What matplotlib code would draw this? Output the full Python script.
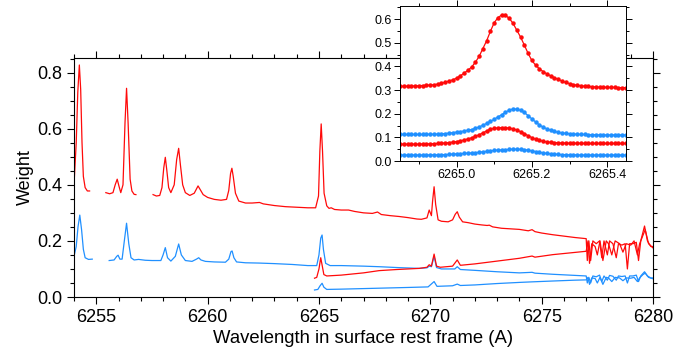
import numpy as np
import matplotlib
matplotlib.use('Agg')
import matplotlib.pyplot as plt
from matplotlib.ticker import MultipleLocator

plt.rcParams['font.family'] = ['Liberation Sans', 'DejaVu Sans']

NAN = float('nan')

# ---------------- main panel data: (wavelength, weight); NaN = gap ----------------
red_upper = [
    (6254.00, 0.40), (6254.10, 0.55), (6254.17, 0.73), (6254.24, 0.827), (6254.30, 0.74),
    (6254.36, 0.55), (6254.42, 0.43), (6254.50, 0.39), (6254.60, 0.378), (6254.70, 0.378),
    (NAN, NAN),
    (6255.43, 0.372), (6255.60, 0.368), (6255.75, 0.372), (6255.85, 0.40), (6255.94, 0.42),
    (6256.02, 0.395), (6256.10, 0.372), (6256.20, 0.40), (6256.29, 0.62), (6256.36, 0.744),
    (6256.43, 0.62), (6256.52, 0.42), (6256.60, 0.378), (6256.70, 0.366), (6256.78, 0.365),
    (NAN, NAN),
    (6257.55, 0.365), (6257.70, 0.360), (6257.85, 0.362), (6257.95, 0.39), (6258.03, 0.46),
    (6258.10, 0.498), (6258.17, 0.45), (6258.25, 0.39), (6258.35, 0.372), (6258.50, 0.40),
    (6258.61, 0.49), (6258.70, 0.53), (6258.78, 0.47), (6258.88, 0.40), (6259.00, 0.372),
    (6259.20, 0.362), (6259.40, 0.37), (6259.50, 0.385), (6259.57, 0.396), (6259.65, 0.385),
    (6259.80, 0.365), (6260.00, 0.355), (6260.30, 0.348), (6260.60, 0.345), (6260.85, 0.348),
    (6260.95, 0.38), (6261.03, 0.44), (6261.09, 0.459), (6261.15, 0.43), (6261.25, 0.37),
    (6261.40, 0.342), (6261.70, 0.335), (6262.00, 0.335), (6262.33, 0.337), (6262.50, 0.332),
    (6263.00, 0.326), (6263.50, 0.322), (6264.00, 0.320), (6264.50, 0.318), (6264.85, 0.318),
    (6264.98, 0.36), (6265.04, 0.52), (6265.10, 0.617), (6265.16, 0.52), (6265.23, 0.37),
    (6265.35, 0.325), (6265.45, 0.316), (6265.55, 0.318), (6265.70, 0.312), (6266.00, 0.310),
    (6266.33, 0.310), (6266.60, 0.305), (6267.00, 0.300), (6267.40, 0.298), (6267.63, 0.303),
    (6267.80, 0.294), (6268.20, 0.290), (6268.60, 0.287), (6269.00, 0.283), (6269.40, 0.278),
    (6269.60, 0.277), (6269.85, 0.282), (6269.95, 0.31), (6270.05, 0.29), (6270.10, 0.34),
    (6270.17, 0.393), (6270.24, 0.33), (6270.35, 0.275), (6270.50, 0.270), (6270.80, 0.268),
    (6271.00, 0.275), (6271.12, 0.295), (6271.21, 0.304), (6271.30, 0.285), (6271.45, 0.268),
    (6271.70, 0.265), (6272.00, 0.260), (6272.30, 0.257), (6272.55, 0.255), (6272.65, 0.256),
    (6272.80, 0.250), (6273.20, 0.245), (6273.60, 0.243), (6274.00, 0.241), (6274.40, 0.236),
    (6274.57, 0.240), (6274.70, 0.233), (6275.00, 0.228), (6275.50, 0.222), (6276.00, 0.217),
    (6276.50, 0.212), (6276.90, 0.209), (6277.00, 0.208), (6277.05, 0.13), (6277.12, 0.20),
    (6277.20, 0.13), (6277.30, 0.20), (6277.45, 0.19), (6277.60, 0.20), (6277.70, 0.14),
    (6277.80, 0.20), (6277.95, 0.15), (6278.05, 0.20), (6278.20, 0.19), (6278.35, 0.14),
    (6278.45, 0.19), (6278.60, 0.185), (6278.75, 0.19), (6278.85, 0.10), (6278.95, 0.19),
    (6279.10, 0.19), (6279.25, 0.195), (6279.35, 0.13), (6279.45, 0.20), (6279.62, 0.253),
    (6279.75, 0.20), (6279.90, 0.18), (6280.00, 0.18),
]

red_lower = [
    (6264.80, 0.067), (6264.90, 0.070), (6265.00, 0.10), (6265.08, 0.14), (6265.15, 0.11),
    (6265.22, 0.08), (6265.35, 0.075), (6266.00, 0.078), (6267.00, 0.086), (6267.70, 0.094),
    (6268.50, 0.098), (6269.50, 0.102), (6269.85, 0.106), (6269.95, 0.115), (6270.05, 0.11),
    (6270.17, 0.153), (6270.28, 0.11), (6270.45, 0.106), (6271.00, 0.110), (6271.21, 0.132),
    (6271.35, 0.113), (6272.00, 0.118), (6273.00, 0.128), (6274.00, 0.138), (6274.57, 0.146),
    (6274.70, 0.142), (6275.50, 0.151), (6276.50, 0.159), (6277.00, 0.163), (6277.08, 0.20),
    (6277.15, 0.12), (6277.25, 0.19), (6277.40, 0.18), (6277.50, 0.15), (6277.62, 0.20),
    (6277.75, 0.13), (6277.90, 0.20), (6278.00, 0.19), (6278.15, 0.15), (6278.30, 0.20),
    (6278.50, 0.19), (6278.65, 0.16), (6278.80, 0.19), (6279.00, 0.185), (6279.15, 0.20),
    (6279.30, 0.15), (6279.40, 0.19), (6279.55, 0.22), (6279.65, 0.24), (6279.80, 0.19),
    (6280.00, 0.175),
]

blue_upper = [
    (6254.00, 0.145), (6254.10, 0.18), (6254.18, 0.25), (6254.26, 0.292), (6254.34, 0.24),
    (6254.42, 0.17), (6254.50, 0.14), (6254.65, 0.134), (6254.82, 0.135),
    (NAN, NAN),
    (6255.58, 0.130), (6255.80, 0.132), (6255.92, 0.145), (6255.98, 0.149), (6256.06, 0.135),
    (6256.16, 0.135), (6256.26, 0.20), (6256.36, 0.263), (6256.46, 0.19), (6256.56, 0.14),
    (6256.70, 0.132), (6256.90, 0.134), (6257.20, 0.131), (6257.50, 0.130), (6257.90, 0.130),
    (6258.00, 0.15), (6258.10, 0.176), (6258.20, 0.14), (6258.35, 0.128), (6258.55, 0.145),
    (6258.70, 0.189), (6258.82, 0.15), (6259.00, 0.13), (6259.30, 0.127), (6259.50, 0.135),
    (6259.60, 0.14), (6259.70, 0.132), (6259.90, 0.127), (6260.30, 0.125), (6260.80, 0.124),
    (6260.95, 0.135), (6261.05, 0.162), (6261.10, 0.164), (6261.18, 0.14), (6261.30, 0.125),
    (6261.70, 0.122), (6262.30, 0.121), (6263.00, 0.119), (6263.80, 0.116), (6264.50, 0.112),
    (6264.90, 0.112), (6265.00, 0.15), (6265.08, 0.21), (6265.14, 0.221), (6265.20, 0.17),
    (6265.30, 0.12), (6265.50, 0.112), (6266.00, 0.112), (6267.00, 0.110), (6267.70, 0.108),
    (6268.50, 0.105), (6269.50, 0.102), (6269.85, 0.104), (6269.95, 0.11), (6270.05, 0.108),
    (6270.17, 0.145), (6270.28, 0.105), (6270.50, 0.100), (6271.10, 0.100), (6271.21, 0.108),
    (6271.35, 0.098), (6272.00, 0.095), (6273.00, 0.090), (6274.00, 0.086), (6274.57, 0.088),
    (6274.70, 0.085), (6275.50, 0.081), (6276.50, 0.077), (6277.00, 0.075), (6277.05, 0.05),
    (6277.12, 0.07), (6277.20, 0.05), (6277.30, 0.075), (6277.45, 0.072), (6277.60, 0.078),
    (6277.70, 0.055), (6277.80, 0.075), (6277.95, 0.06), (6278.05, 0.077), (6278.20, 0.074),
    (6278.35, 0.06), (6278.45, 0.075), (6278.60, 0.073), (6278.75, 0.075), (6278.85, 0.05),
    (6278.95, 0.075), (6279.10, 0.075), (6279.25, 0.078), (6279.35, 0.055), (6279.45, 0.075),
    (6279.62, 0.09), (6279.75, 0.075), (6279.90, 0.068), (6280.00, 0.068),
]

blue_lower = [
    (6264.80, 0.025), (6264.95, 0.027), (6265.05, 0.04), (6265.14, 0.049), (6265.22, 0.035),
    (6265.35, 0.027), (6266.00, 0.028), (6267.00, 0.030), (6268.00, 0.032), (6269.00, 0.034),
    (6269.90, 0.036), (6270.17, 0.055), (6270.30, 0.038), (6271.00, 0.040), (6271.21, 0.046),
    (6271.35, 0.041), (6272.00, 0.043), (6273.00, 0.048), (6274.00, 0.052), (6274.57, 0.054),
    (6275.50, 0.057), (6276.50, 0.060), (6277.00, 0.061), (6277.08, 0.07), (6277.15, 0.045),
    (6277.25, 0.068), (6277.40, 0.066), (6277.50, 0.05), (6277.62, 0.07), (6277.75, 0.045),
    (6277.90, 0.07), (6278.00, 0.068), (6278.15, 0.055), (6278.30, 0.07), (6278.50, 0.068),
    (6278.65, 0.058), (6278.80, 0.068), (6279.00, 0.067), (6279.15, 0.07), (6279.30, 0.055),
    (6279.40, 0.068), (6279.55, 0.08), (6279.65, 0.085), (6279.80, 0.07), (6280.00, 0.065),
]

# ---------------- inset data (0.01 A sampling) ----------------
inset_wl = np.round(6264.85 + 0.01 * np.arange(61), 2)

inset_red_top = [
    0.316, 0.316, 0.316, 0.317, 0.317, 0.318, 0.319, 0.320, 0.321, 0.322,
    0.325, 0.328, 0.333, 0.338, 0.343, 0.350, 0.360, 0.371, 0.383, 0.397,
    0.417, 0.442, 0.475, 0.508, 0.548, 0.584, 0.606, 0.617, 0.615, 0.603,
    0.582, 0.553, 0.524, 0.490, 0.455, 0.425, 0.405, 0.390, 0.378, 0.368,
    0.360, 0.352, 0.345, 0.338, 0.332, 0.327, 0.323, 0.320, 0.318, 0.316,
    0.315, 0.314, 0.313, 0.312, 0.312, 0.311, 0.311, 0.311, 0.310, 0.310,
    0.310,
]
inset_blue_top = [
    0.112, 0.112, 0.112, 0.112, 0.112, 0.112, 0.112, 0.113, 0.113, 0.113,
    0.114, 0.115, 0.116, 0.118, 0.120, 0.122, 0.124, 0.127, 0.130, 0.133,
    0.138, 0.144, 0.151, 0.159, 0.167, 0.176, 0.186, 0.196, 0.206, 0.215,
    0.220, 0.219, 0.214, 0.205, 0.192, 0.178, 0.165, 0.153, 0.143, 0.136,
    0.130, 0.125, 0.121, 0.118, 0.117, 0.115, 0.114, 0.113, 0.112, 0.112,
    0.111, 0.111, 0.111, 0.110, 0.110, 0.110, 0.110, 0.110, 0.110, 0.110,
    0.110,
]
inset_red_low = [
    0.071, 0.071, 0.071, 0.071, 0.071, 0.071, 0.072, 0.072, 0.073, 0.073,
    0.074, 0.075, 0.076, 0.078, 0.080, 0.082, 0.085, 0.089, 0.093, 0.098,
    0.104, 0.111, 0.119, 0.127, 0.134, 0.138, 0.140, 0.141, 0.141, 0.139,
    0.136, 0.131, 0.124, 0.116, 0.107, 0.099, 0.092, 0.087, 0.083, 0.081,
    0.079, 0.078, 0.077, 0.076, 0.076, 0.075, 0.075, 0.075, 0.075, 0.074,
    0.074, 0.074, 0.074, 0.074, 0.074, 0.074, 0.074, 0.074, 0.074, 0.074,
    0.074,
]
inset_blue_low = [
    0.025, 0.025, 0.025, 0.025, 0.025, 0.025, 0.025, 0.025, 0.026, 0.026,
    0.026, 0.027, 0.027, 0.028, 0.029, 0.030, 0.031, 0.032, 0.033, 0.034,
    0.035, 0.037, 0.039, 0.041, 0.043, 0.045, 0.046, 0.047, 0.048, 0.049,
    0.050, 0.050, 0.049, 0.048, 0.046, 0.043, 0.040, 0.037, 0.034, 0.032,
    0.030, 0.029, 0.028, 0.027, 0.027, 0.026, 0.026, 0.026, 0.025, 0.025,
    0.025, 0.025, 0.025, 0.025, 0.025, 0.025, 0.025, 0.025, 0.025, 0.025,
    0.025,
]

RED = '#ff0a0a'
BLUE = '#2090ff'

fig = plt.figure(figsize=(7.0, 3.54), dpi=100)
ax = fig.add_axes([74 / 700, 1 - 297 / 354, (653 - 74) / 700, (297 - 58) / 354])

for series, col in [(blue_lower, BLUE), (blue_upper, BLUE), (red_lower, RED), (red_upper, RED)]:
    xs, ys = zip(*series)
    ax.plot(xs, ys, color=col, lw=0.9)

ax.set_xlim(6254.0, 6280.0)
ax.set_ylim(0, 0.852)
ax.xaxis.set_major_locator(MultipleLocator(5))
ax.xaxis.set_minor_locator(MultipleLocator(1))
ax.yaxis.set_major_locator(MultipleLocator(0.2))
ax.yaxis.set_minor_locator(MultipleLocator(0.05))
ax.tick_params(which='both', direction='out', top=True, right=True, width=0.8, labelsize=13)
ax.tick_params(which='major', length=5)
ax.tick_params(which='minor', length=3)
ax.set_xlabel('Wavelength in surface rest frame (A)', fontsize=13.3, labelpad=3)
ax.set_ylabel('Weight', fontsize=13, labelpad=2)
for s in ax.spines.values():
    s.set_linewidth(0.8)

# inset
axi = fig.add_axes([400 / 700, 1 - 161 / 354, (626 - 400) / 700, (161 - 6) / 354])
axi.set_facecolor('white')
for vals, col in [(inset_red_top, RED), (inset_blue_top, BLUE), (inset_red_low, RED), (inset_blue_low, BLUE)]:
    axi.plot(inset_wl, vals, color=col, lw=0.9, marker='o', ms=2.2, mec=col, mfc=col)
axi.set_xlim(6264.85, 6265.45)
axi.set_ylim(0, 0.655)
axi.xaxis.set_major_locator(MultipleLocator(0.2))
axi.xaxis.set_minor_locator(MultipleLocator(0.1))
axi.yaxis.set_major_locator(MultipleLocator(0.1))
axi.yaxis.set_minor_locator(MultipleLocator(0.05))
axi.xaxis.set_major_formatter(plt.FormatStrFormatter('%.1f'))
axi.yaxis.set_major_formatter(plt.FormatStrFormatter('%.1f'))
axi.tick_params(which='both', direction='out', top=True, right=True, width=0.7, labelsize=9, pad=2)
axi.tick_params(which='major', length=4)
axi.tick_params(which='minor', length=2)
for s in axi.spines.values():
    s.set_linewidth(0.7)

fig.savefig('out.png', dpi=100)
